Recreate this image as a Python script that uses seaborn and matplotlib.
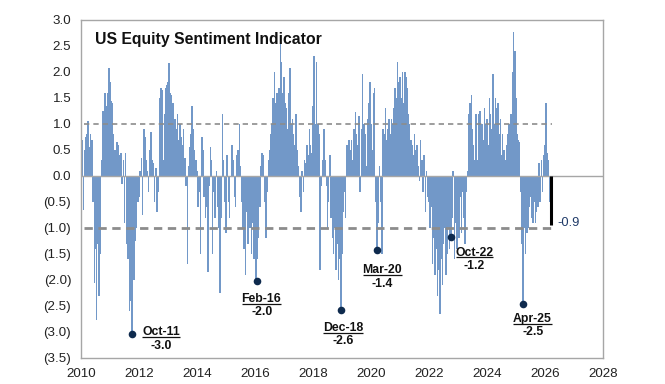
import numpy as np
import pandas as pd
import matplotlib
matplotlib.use("Agg")
import matplotlib.pyplot as plt
import seaborn as sns

# ---------------- data (semi-monthly readings) ----------------
start_year = 2010
v2010 = [1.25, 0.7, -0.65, 0.5, 0.75, 0.8, 1.05, 0.55, 0.8, 0.7, -0.5, -2.05,
         -1.4, -2.77, -1.3, -2.3, -1.5, 0.3, 1.25, 0.8, 1.6, 1.35, 1.6, 2.08]
v2011 = [1.8, 1.45, 1.4, 0.8, 0.5, 0.3, 0.65, 0.6, 0.4, 0.45, -0.15, 0.3,
         -0.9, 0.45, -1.3, -1.6, -2.6, -2.4, -3.03, -1.6, -2.0, -1.25, -1.0, -0.5]
v2012 = [-0.4, 0.1, 0.35, -0.75, 0.9, 0.75, 0.3, 0.1, -0.3, 0.5, 0.85, 0.3,
         0.25, -0.5, 0.15, -0.7, -0.3, 1.5, 1.7, 1.65, 0.3, 1.2, 1.7, 1.75]
v2013 = [1.8, 2.18, 1.6, 1.55, 1.4, 0.8, 1.1, 0.9, 1.2, 0.7, 1.0, 0.75,
         0.6, 0.9, 0.35, -0.2, -1.7, 0.2, 0.55, 0.8, 1.35, 0.9, 0.5, 0.3]
v2014 = [0.1, -0.6, -0.3, -1.5, 0.75, 0.5, -0.4, -0.8, -0.6, -1.85, -0.2, 0.55,
         0.3, -1.5, -0.3, -0.8, 0.1, -0.6, -1.0, -2.25, -0.8, 1.2, 0.3, -0.5]
v2015 = [-1.1, 0.4, -0.5, -0.8, 0.0, 0.6, 0.3, -0.4, -0.6, 0.4, 0.5, 1.0,
         0.2, -0.5, -1.0, -1.4, -1.9, -0.7, -1.3, -0.8, -1.0, -1.5, -0.9, -1.6]
v2016 = [-1.5, -2.02, -1.6, -1.2, -0.6, 0.2, 0.45, 0.4, -0.5, -1.2, -0.3, 0.3,
         0.5, 0.8, 1.0, 1.5, 2.0, 1.4, 1.6, 1.0, 1.7, 2.57, 2.2, 1.6]
v2017 = [1.9, 1.4, 1.3, 0.9, 1.6, 2.07, 1.0, 1.1, 0.8, 0.6, 1.2, 0.5,
         0.2, -0.4, -0.7, 0.1, -0.3, 0.3, 0.25, 0.6, 0.4, 0.9, 0.6, 0.45]
v2018 = [1.35, 2.3, 1.0, 2.2, 1.0, 0.8, -1.8, -0.2, 0.3, 0.9, 0.3, -0.2,
         -1.0, -0.5, 0.4, -0.8, -1.2, -1.5, -1.0, -1.8, -1.3, -2.0, -1.6, -2.58]
v2019 = [-1.5, -0.7, -0.3, -0.8, 0.6, 0.4, 0.7, 0.5, 0.7, 0.3, 0.9, 1.24,
         0.8, 0.6, 1.15, -0.3, 0.9, 1.97, 1.0, 0.8, 0.2, 1.1, 1.4, 1.8]
v2020 = [1.0, 0.5, 1.6, 1.7, -0.5, -1.43, -0.9, 0.2, -0.5, -1.5, 0.9, 0.8,
         1.3, 0.7, 0.9, 1.1, 0.8, 1.1, 1.0, 1.3, 1.7, 1.5, 2.2, 1.8]
v2021 = [1.9, 1.5, 2.0, 1.4, 2.0, 1.9, 1.7, 1.2, 1.0, 0.7, 0.6, 0.4,
         0.8, 0.5, 0.6, 0.2, -0.1, 0.7, 0.3, -0.3, 0.4, -0.7, 0.1, -0.4]
v2022 = [-0.5, -1.0, -0.6, -1.7, -1.2, -1.9, -1.4, -2.3, -1.8, -2.65, -1.6, -2.1,
         -1.3, -1.0, -1.9, -1.5, -1.0, -1.4, -1.18, -0.8, 0.1, -1.6, -0.9, -1.4]
v2023 = [-0.6, -1.2, -0.4, -1.1, -0.3, -0.8, -1.3, -0.3, 0.1, 1.2, 1.4, 1.55,
         0.9, 0.6, 0.3, 1.2, 0.3, 1.2, 1.25, 0.1, 1.0, 0.7, 1.3, 1.0]
v2024 = [1.1, 0.6, 1.5, 1.2, 0.9, 1.96, 1.0, 1.5, 1.3, 1.4, 0.8, 1.1,
         0.4, 0.8, 0.5, 0.3, 0.6, 0.8, 1.0, 0.6, 1.2, 2.0, 2.77, 2.4]
v2025 = [1.5, 0.8, 0.7, 0.65, -0.3, -1.3, -2.47, -1.0, -1.5, -1.1, -1.0, -0.6,
         -0.4, -0.8, -0.9, -0.5, -0.9, -0.7, -0.6, 0.25, -0.5, 0.3, -0.3, 0.4]
v2026 = [0.6, 1.4, 0.45, 0.3, -0.5]

latest_date = 2026.21
latest_value = -0.94
latest_label = "-0.9"

annot_dates = [2011.75, 2016.06, 2018.97, 2020.2, 2022.76, 2025.24]
annot_values = [-3.03, -2.02, -2.58, -1.43, -1.18, -2.47]
annot_names = ["Oct-11", "Feb-16", "Dec-18", "Mar-20", "Oct-22", "Apr-25"]

x_ticks = [2010, 2012, 2014, 2016, 2018, 2020, 2022, 2024, 2026, 2028]
title = "US Equity Sentiment Indicator"

# ---------------- layout / style ----------------
W, H, DPI = 665, 384, 100
BAR = "#7298C8"
NAVY = "#0E2A4D"
GREY = "#A6A6A6"
DASH = "#8C8C8C"
# label offsets from dot, in pixels (dx right, dy down, to the text baseline)
date_off = [(29.3, 1.3), (4.6, 21.3), (1.8, 21.0), (5.3, 23.0), (23.5, 18.3), (9.6, 17.4)]
val_off = [(29.5, 15.3), (5.0, 34.0), (2.0, 34.3), (5.0, 36.4), (23.2, 31.6), (9.8, 30.7)]

values = np.concatenate([v2010, v2011, v2012, v2013, v2014, v2015, v2016, v2017,
                         v2018, v2019, v2020, v2021, v2022, v2023, v2024, v2025, v2026])
dates = np.round(start_year + np.arange(len(values)) / 24.0, 5)
df = pd.DataFrame({"date": dates, "value": values})

sns.set_theme(style="white")
plt.rcParams["font.family"] = ["Liberation Sans", "DejaVu Sans"]

fig = plt.figure(figsize=(W / DPI, H / DPI), dpi=DPI)
fig.patch.set_facecolor("white")
ax = fig.add_axes([81 / W, 1 - 358 / H, (603 - 81) / W, (358 - 20) / H])

sns.barplot(data=df, x="date", y="value", native_scale=True, width=1.3,
            color=BAR, saturation=1, linewidth=0, errorbar=None, ax=ax, zorder=2)

# reference lines
ax.axhline(0, color=GREY, lw=1.0, zorder=3)
ax.hlines(1.0, 2010.1, 2026.25, colors=DASH, lw=1.2, linestyles=(0, (3.2, 2.4)), zorder=4)
ax.hlines(-1.0, 2010.1, 2026.25, colors=DASH, lw=2.0, linestyles=(0, (3.0, 2.0)), zorder=4)

# latest reading
ax.vlines(latest_date, 0, latest_value, colors="black", lw=2.2, zorder=5)
ax.annotate(latest_label, xy=(latest_date, latest_value), xytext=(4.5, 1.5),
            textcoords="offset points", ha="left", va="center", fontsize=9.3,
            color="#1F3A68", zorder=6)

# troughs
sns.scatterplot(x=annot_dates, y=annot_values, color=NAVY, s=30, edgecolor=NAVY,
                linewidth=0, ax=ax, zorder=7)

# axes
ax.set_xlim(2010, 2028)
ax.set_ylim(-3.5, 3.0)
ax.set_xticks(x_ticks)
ax.set_xticklabels([str(t) for t in x_ticks])
yt = np.round(np.arange(-3.5, 3.01, 0.5), 1)
ax.set_yticks(yt)
ax.set_yticklabels([f"({abs(v):.1f})" if v < 0 else f"{v:.1f}" for v in yt])
ax.set_xlabel("")
ax.set_ylabel("")
ax.grid(False)
for s in ax.spines.values():
    s.set_visible(True)
    s.set_color(GREY)
    s.set_linewidth(1.0)
ax.tick_params(axis="both", direction="out", length=3, width=0.8, color=GREY,
               labelsize=9.6, labelcolor="#222222", pad=4)
ax.set_facecolor("white")

k = 72.0 / DPI
date_texts = []
for d, v, name, (dx, dy), (vx, vy) in zip(annot_dates, annot_values, annot_names, date_off, val_off):
    t = ax.annotate(name, xy=(d, v), xytext=(dx * k, -dy * k), textcoords="offset points",
                    ha="center", va="baseline", fontsize=8.8, fontweight="bold",
                    color="#111111", zorder=8, annotation_clip=False)
    date_texts.append((t, d, v, dy))
    ax.annotate(f"{v:.1f}", xy=(d, v), xytext=(vx * k, -vy * k), textcoords="offset points",
                ha="center", va="baseline", fontsize=8.8, fontweight="bold",
                color="#111111", zorder=8, annotation_clip=False)

fig.text(95 / W, 1 - 44 / H, title, fontsize=11.3, fontweight="bold",
         color="#111111", ha="left", va="baseline")

# underline the date labels (converted back to data coordinates)
fig.canvas.draw()
renderer = fig.canvas.get_renderer()
inv = ax.transData.inverted()
for t, d, v, dy in date_texts:
    bb = t.get_window_extent(renderer)
    dot_y = ax.transData.transform((d, v))[1]
    ly = dot_y - dy - 1.8
    (xa, ya) = inv.transform((bb.x0 + 0.3, ly))
    (xb, yb) = inv.transform((bb.x1 - 0.3, ly))
    ax.plot([xa, xb], [ya, yb], color="#111111", lw=0.9, clip_on=False, zorder=9,
            solid_capstyle="butt")

fig.savefig("out.png", dpi=DPI, facecolor="white")
